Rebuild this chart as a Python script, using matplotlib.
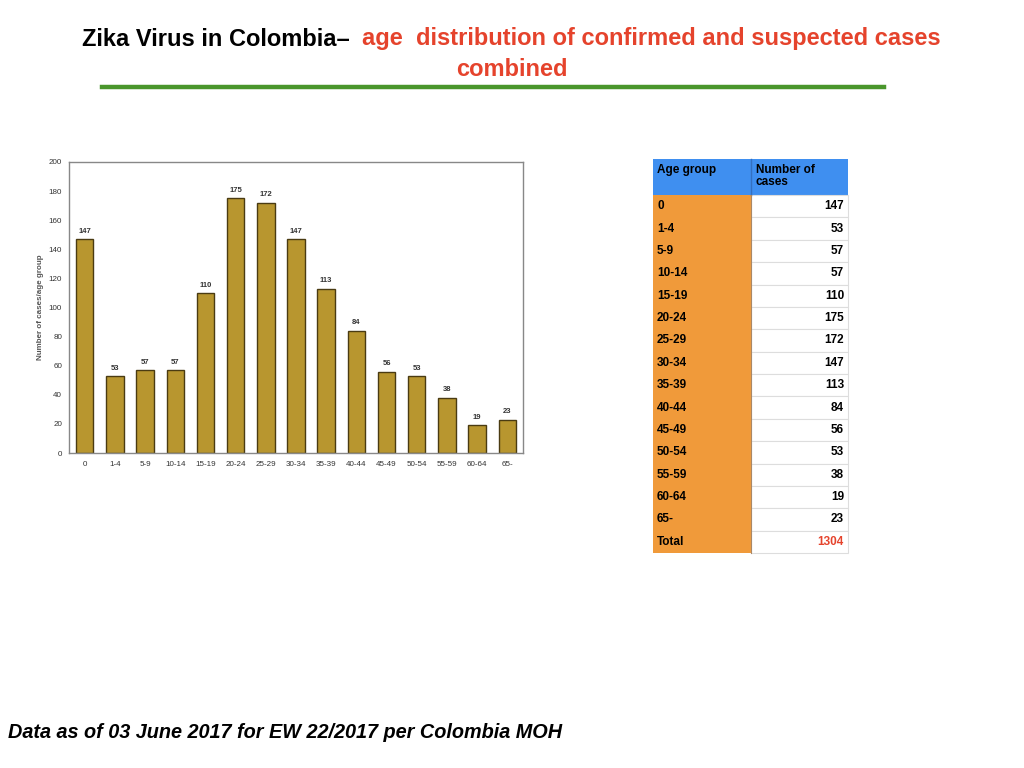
import matplotlib.pyplot as plt
from matplotlib.patches import Rectangle

age_groups = ["0", "1-4", "5-9", "10-14", "15-19", "20-24", "25-29", "30-34",
              "35-39", "40-44", "45-49", "50-54", "55-59", "60-64", "65-"]
cases = [147, 53, 57, 57, 110, 175, 172, 147, 113, 84, 56, 53, 38, 19, 23]
total_label = "Total"
total_cases = 1304
y_ticks = [0, 20, 40, 60, 80, 100, 120, 140, 160, 180, 200]

plt.rcParams['font.family'] = ['Liberation Sans', 'DejaVu Sans']

fig = plt.figure(figsize=(10.24, 7.68), dpi=100)
W, H = 1024, 768

def fbox(x0, y0, x1, y1):
    # pixel box (top-left origin) -> figure fraction rect
    return [x0 / W, 1 - y1 / H, (x1 - x0) / W, (y1 - y0) / H]

# title
fig.text(350 / W, 1 - 39 / H, "Zika Virus in Colombia\u2013", ha='right', va='center',
         fontsize=17, fontweight='bold', color='black')
fig.text(362 / W, 1 - 39 / H, "age  distribution of confirmed and suspected cases",
         ha='left', va='center', fontsize=17, fontweight='bold', color='#e5432c')
fig.text(512 / W, 1 - 70 / H, "combined", ha='center', va='center',
         fontsize=17, fontweight='bold', color='#e5432c')
fig.add_artist(plt.Line2D([102 / W, 884 / W], [1 - 87 / H, 1 - 87 / H],
                          color='#4a962c', lw=3.2))

# bar chart
ax = fig.add_axes(fbox(69, 162, 523, 453))
x = range(len(age_groups))
ax.bar(x, cases, width=0.58, color='#b8962f', edgecolor='#4a3b12', linewidth=1.0)
for xi, v in zip(x, cases):
    ax.text(xi, v + 3, str(v), ha='center', va='bottom', fontsize=5.5,
            fontweight='bold', color='#333333')
ax.set_xlim(-0.52, len(age_groups) - 0.48)
ax.set_ylim(0, 200)
ax.set_yticks(y_ticks)
ax.set_xticks(list(x))
ax.set_xticklabels(age_groups)
ax.tick_params(length=0, labelsize=5.8, colors='#333333', pad=6)
ax.tick_params(axis='y', pad=5)
ax.set_ylabel("Number of cases/age group", fontsize=5.8, color='#555555',
              fontweight='bold')
ax.yaxis.set_label_coords(-0.055, 0.5)
for s in ax.spines.values():
    s.set_color('#888888')
    s.set_linewidth(1.0)

# table
tx0, tx1, tsplit = 653, 848, 751
ty0, thead = 159, 195
row_h = (553 - 195) / 16
tax = fig.add_axes([0, 0, 1, 1])
tax.set_xlim(0, W)
tax.set_ylim(H, 0)
tax.axis('off')

tax.add_patch(Rectangle((tx0, ty0), tx1 - tx0, thead - ty0, color='#3f8ff0', lw=0))
tax.plot([tsplit, tsplit], [ty0, thead], color='#3470c0', lw=1)
tax.text(tx0 + 4, ty0 + 5, "Age group", ha='left', va='top', fontsize=8.5,
         fontweight='bold', color='black')
tax.text(tsplit + 5, ty0 + 5, "Number of\ncases", ha='left', va='top', fontsize=8.5,
         fontweight='bold', color='black', linespacing=1.0)

rows = list(zip(age_groups, cases)) + [(total_label, total_cases)]
for i, (g, v) in enumerate(rows):
    y0 = thead + i * row_h
    tax.add_patch(Rectangle((tx0, y0), tsplit - tx0, row_h, facecolor='#f09a3a',
                            edgecolor='none'))
    tax.add_patch(Rectangle((tsplit, y0), tx1 - tsplit, row_h, facecolor='white',
                            edgecolor='#dddddd', lw=0.8))
    tax.text(tx0 + 4, y0 + row_h * 0.5, g, ha='left', va='center', fontsize=8.5,
             fontweight='bold', color='black')
    tax.text(tx1 - 4, y0 + row_h * 0.5, str(v), ha='right', va='center', fontsize=8.5,
             fontweight='bold', color='#e5432c' if g == total_label else 'black')
tax.plot([tsplit, tsplit], [thead, 553], color='#aa8866', lw=0.8)

fig.text(8 / W, 1 - 733 / H, "Data as of 03 June 2017 for EW 22/2017 per Colombia MOH",
         ha='left', va='center', fontsize=14.3, fontweight='bold', style='italic',
         color='black')

fig.savefig("out.png", dpi=100)
